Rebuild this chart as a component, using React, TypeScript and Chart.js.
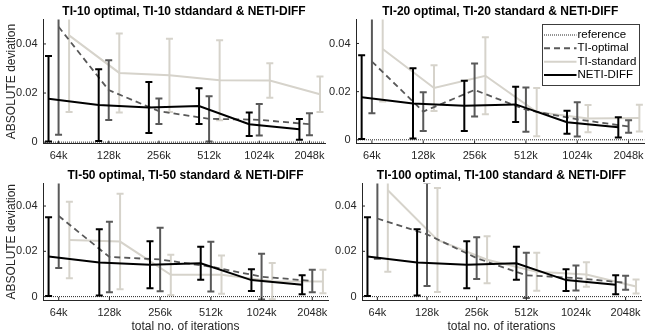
import React, { useEffect, useRef } from 'react';
import { Chart, registerables } from 'chart.js';

Chart.register(...registerables);

// ---------------- data ----------------
const iterations = ['64k', '128k', '256k', '512k', '1024k', '2048k'];
const yTickValues = [0, 0.02, 0.04];
const yTickLabels = ['0', '0.02', '0.04'];
const referenceValue = 0;

const panelTitles = [
  'TI-10 optimal, TI-10 stdandard & NETI-DIFF',
  'TI-20 optimal, TI-20 standard & NETI-DIFF',
  'TI-50 optimal, TI-50 standard & NETI-DIFF',
  'TI-100 optimal, TI-100 standard & NETI-DIFF',
];
const legendLabels = ['reference', 'TI-optimal', 'TI-standard', 'NETI-DIFF'];
const yAxisTitle = 'ABSOLUTE deviation';
const xAxisTitle = 'total no. of iterations';

// NETI-DIFF (same in every panel)
const netiMean = [0.0177, 0.0151, 0.0141, 0.0147, 0.0073, 0.0052];
const netiErr = [0.0174, 0.0146, 0.0104, 0.0073, 0.0048, 0.0042];

// TI-10
const ti10OptMean = [0.047, 0.0212, 0.0126, 0.0095, 0.0091, 0.0073];
const ti10OptErr = [0.044, 0.0122, 0.0052, 0.0092, 0.0064, 0.0045];
const ti10StdMean = [0.0435, 0.0282, 0.0272, 0.0252, 0.0251, 0.0195];
const ti10StdErr = [0.0312, 0.0161, 0.0149, 0.0163, 0.007, 0.0072];

// TI-20
const ti20OptMean = [0.0325, 0.0117, 0.0207, 0.0125, 0.0085, 0.0055];
const ti20OptErr = [0.0215, 0.008, 0.011, 0.0092, 0.0071, 0.0026];
const ti20StdMean = [0.0377, 0.0215, 0.0266, 0.0115, 0.0088, 0.009];
const ti20StdErr = [0.0218, 0.0095, 0.016, 0.01, 0.0057, 0.0056];

// TI-50
const ti50OptMean = [0.0356, 0.0175, 0.0164, 0.0132, 0.0088, 0.0069];
const ti50OptErr = [0.023, 0.0156, 0.014, 0.011, 0.0101, 0.005];
const ti50StdMean = [0.025, 0.0243, 0.0096, 0.0097, 0.0068, 0.0067];
const ti50StdErr = [0.0169, 0.0211, 0.0089, 0.0084, 0.008, 0.0052];

// TI-100
const ti100OptMean = [0.0345, 0.0275, 0.017, 0.0094, 0.0082, 0.0061];
const ti100OptErr = [0.0178, 0.0228, 0.0092, 0.01, 0.0055, 0.0031];
const ti100StdMean = [0.047, 0.025, 0.0163, 0.011, 0.0098, 0.0045];
const ti100StdErr = [0.036, 0.023, 0.0104, 0.0084, 0.0054, 0.0031];

const panelOptMeans = [ti10OptMean, ti20OptMean, ti50OptMean, ti100OptMean];
const panelOptErrs = [ti10OptErr, ti20OptErr, ti50OptErr, ti100OptErr];
const panelStdMeans = [ti10StdMean, ti20StdMean, ti50StdMean, ti100StdMean];
const panelStdErrs = [ti10StdErr, ti20StdErr, ti50StdErr, ti100StdErr];

// ---------------- style / layout ----------------
const COL_NETI = '#000000';
const COL_OPT = '#595959';
const COL_STD = '#d6d3cb';
const COL_AXIS = '#262626';
const FONT = '"Liberation Sans", Arial, Helvetica, sans-serif';

const W = 654;
const H = 335;
const X_MIN = -0.31;
const X_MAX = 5.31;
const Y_MAX = 0.05;
const OFF_NETI = -0.2;
const OFF_OPT = 0;
const OFF_STD = 0.21;
const WY = 40;
const TITLE_H = 12 * 1.2 + 4 + 1;

interface PanelLayout {
  left: number; right: number; top: number; bottom: number;
  yMin: number; yTitle: boolean; xTitle: boolean; legend: boolean;
}

const layouts: PanelLayout[] = [
  { left: 43, right: 325, top: 19.4, bottom: 143.6, yMin: -0.0006, yTitle: true, xTitle: false, legend: false },
  { left: 356, right: 644.5, top: 19.4, bottom: 143.4, yMin: -0.0015, yTitle: false, xTitle: false, legend: true },
  { left: 43, right: 328, top: 183.4, bottom: 300, yMin: -0.0015, yTitle: true, xTitle: true, legend: false },
  { left: 362, right: 641, top: 183.4, bottom: 300, yMin: -0.0015, yTitle: false, xTitle: true, legend: false },
];

// ---------------- plugins ----------------
const errorBarPlugin = {
  id: 'errorBars',
  afterDatasetDraw(chart: any, args: any) {
    const ds = chart.data.datasets[args.index];
    if (!ds.errors) return;
    const { ctx, chartArea: a, scales } = chart;
    const xs = scales.x;
    const ys = scales.y;
    ctx.save();
    ctx.beginPath();
    ctx.rect(a.left, a.top, a.right - a.left, a.bottom - a.top);
    ctx.clip();
    ctx.strokeStyle = ds.borderColor;
    ctx.lineWidth = ds.errWidth || 2;
    ctx.setLineDash([]);
    ds.data.forEach((p: any, i: number) => {
      const e = ds.errors[i];
      const px = xs.getPixelForValue(p.x);
      const y1 = ys.getPixelForValue(p.y - e);
      const y2 = ys.getPixelForValue(p.y + e);
      const cw = 3.5;
      ctx.beginPath();
      ctx.moveTo(px, y1);
      ctx.lineTo(px, y2);
      ctx.moveTo(px - cw, y1);
      ctx.lineTo(px + cw, y1);
      ctx.moveTo(px - cw, y2);
      ctx.lineTo(px + cw, y2);
      ctx.stroke();
    });
    ctx.restore();
  },
};

const inTicksPlugin = {
  id: 'inTicks',
  afterDraw(chart: any) {
    const { ctx, chartArea: a, scales } = chart;
    ctx.save();
    ctx.strokeStyle = COL_AXIS;
    ctx.lineWidth = 1;
    ctx.beginPath();
    scales.x.ticks.forEach((t: any) => {
      const px = scales.x.getPixelForValue(t.value);
      ctx.moveTo(px, a.bottom);
      ctx.lineTo(px, a.bottom - 3);
    });
    scales.y.ticks.forEach((t: any) => {
      const py = scales.y.getPixelForValue(t.value);
      ctx.moveTo(a.left, py);
      ctx.lineTo(a.left + 3, py);
    });
    ctx.stroke();
    ctx.restore();
  },
};

const legendBox = { left: 542.5, top: 24.5, right: 639.5, bottom: 85.5 };
const legendRows = [35, 48.3, 61.7, 75];
const legendStyles = [
  { color: COL_AXIS, width: 1, dash: [1, 1] },
  { color: COL_OPT, width: 2, dash: [6, 4] },
  { color: COL_STD, width: 2, dash: [] as number[] },
  { color: COL_NETI, width: 2, dash: [] as number[] },
];

const legendPlugin = {
  id: 'customLegend',
  afterDraw(chart: any) {
    const { ctx } = chart;
    const b = legendBox;
    ctx.save();
    ctx.fillStyle = '#ffffff';
    ctx.fillRect(b.left, b.top, b.right - b.left, b.bottom - b.top);
    ctx.strokeStyle = '#3c3c3c';
    ctx.lineWidth = 1;
    ctx.setLineDash([]);
    ctx.strokeRect(b.left, b.top, b.right - b.left, b.bottom - b.top);
    ctx.font = `11.5px ${FONT}`;
    ctx.textBaseline = 'middle';
    ctx.textAlign = 'left';
    legendLabels.forEach((label, i) => {
      const y = legendRows[i];
      const s = legendStyles[i];
      ctx.strokeStyle = s.color;
      ctx.lineWidth = s.width;
      ctx.setLineDash(s.dash);
      ctx.beginPath();
      ctx.moveTo(544, y);
      ctx.lineTo(576.5, y);
      ctx.stroke();
      ctx.fillStyle = '#000';
      ctx.fillText(label, 577.5, y);
    });
    ctx.restore();
  },
};

// ---------------- chart config ----------------
function makeConfig(k: number): any {
  const L = layouts[k];
  const hx = L.xTitle ? 35 : 30;
  const toPts = (arr: number[], off: number) => arr.map((m, i) => ({ x: i + off, y: m }));
  const datasets = [
    {
      label: 'NETI-DIFF', data: toPts(netiMean, OFF_NETI), errors: netiErr,
      borderColor: COL_NETI, borderWidth: 2, errWidth: 2, order: 0,
    },
    {
      label: 'TI-optimal', data: toPts(panelOptMeans[k], OFF_OPT), errors: panelOptErrs[k],
      borderColor: COL_OPT, borderWidth: 1.8, borderDash: [6, 4], errWidth: 2, order: 1,
    },
    {
      label: 'TI-standard', data: toPts(panelStdMeans[k], OFF_STD), errors: panelStdErrs[k],
      borderColor: COL_STD, borderWidth: 2, errWidth: 2, order: 2,
    },
    {
      label: 'reference',
      data: [{ x: X_MIN, y: referenceValue }, { x: X_MAX, y: referenceValue }],
      borderColor: COL_AXIS, borderWidth: 1, borderDash: [1, 1], order: 3,
    },
  ];
  const plugins: any[] = [errorBarPlugin, inTicksPlugin];
  if (L.legend) plugins.push(legendPlugin);
  return {
    type: 'line',
    data: { datasets },
    plugins,
    options: {
      animation: false,
      responsive: false,
      devicePixelRatio: 1,
      events: [],
      elements: { point: { radius: 0 }, line: { tension: 0, fill: false } },
      layout: {
        padding: {
          left: L.left - WY,
          right: W - L.right,
          top: L.top - TITLE_H,
          bottom: H - L.bottom - hx,
        },
      },
      plugins: {
        legend: { display: false },
        tooltip: { enabled: false },
        title: {
          display: true,
          text: panelTitles[k],
          fullSize: false,
          color: '#000',
          font: { family: FONT, size: 12, weight: 'bold', lineHeight: 1.2 },
          padding: { top: 4, bottom: 1 },
        },
      },
      scales: {
        x: {
          type: 'linear',
          min: X_MIN,
          max: X_MAX,
          grid: { display: false, drawTicks: false },
          border: { display: true, color: COL_AXIS, width: 1 },
          afterBuildTicks: (s: any) => { s.ticks = iterations.map((_, i) => ({ value: i })); },
          afterFit: (s: any) => { s.height = hx; },
          ticks: {
            autoSkip: false, maxRotation: 0, minRotation: 0, padding: 6,
            color: COL_AXIS, font: { family: FONT, size: 11 },
            callback: (v: any) => iterations[Math.round(Number(v))],
          },
          title: {
            display: L.xTitle, text: xAxisTitle, color: COL_AXIS,
            font: { family: FONT, size: 12, lineHeight: 1.2 },
            padding: { top: 0, bottom: 1 },
          },
        },
        y: {
          type: 'linear',
          min: L.yMin,
          max: Y_MAX,
          grid: { display: false, drawTicks: false },
          border: { display: true, color: COL_AXIS, width: 1 },
          afterBuildTicks: (s: any) => { s.ticks = yTickValues.map((v) => ({ value: v })); },
          afterFit: (s: any) => { s.width = WY; },
          ticks: {
            padding: 5.5, color: COL_AXIS, font: { family: FONT, size: 11 },
            callback: (v: any) => {
              const idx = yTickValues.findIndex((t) => Math.abs(t - Number(v)) < 1e-9);
              return idx >= 0 ? yTickLabels[idx] : '';
            },
          },
          title: {
            display: L.yTitle, text: yAxisTitle, color: COL_AXIS,
            font: { family: FONT, size: 12, lineHeight: 1.2 },
            padding: { top: 1, bottom: 0 },
          },
        },
      },
    },
  };
}

export default function App() {
  const canvases = useRef<(HTMLCanvasElement | null)[]>([]);
  useEffect(() => {
    const charts = layouts.map((_, k) => new Chart(canvases.current[k] as HTMLCanvasElement, makeConfig(k)));
    return () => charts.forEach((c) => c.destroy());
  }, []);
  return (
    <div style={{ position: 'fixed', left: 0, top: 0, width: W, height: H, background: '#fff' }}>
      {layouts.map((_, k) => (
        <canvas
          key={k}
          ref={(el) => { canvases.current[k] = el; }}
          width={W}
          height={H}
          style={{ position: 'absolute', left: 0, top: 0, width: W, height: H }}
        />
      ))}
    </div>
  );
}
